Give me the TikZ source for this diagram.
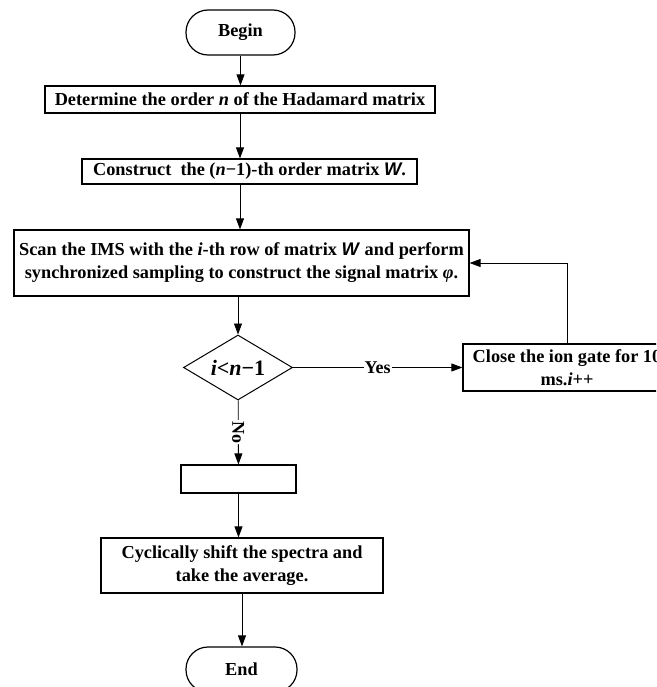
\documentclass[tikz,border=0pt]{standalone}
\usepackage{fontspec}
\setmainfont{Liberation Serif}
\newfontfamily\sansBold{Liberation Sans}
\usetikzlibrary{positioning,shapes.geometric,arrows.meta}
\tikzstyle{chart} = [x = 1pt, y = -1pt, every node/.style={font=\bfseries\fontsize{18.3}{23}\selectfont}]
\tikzstyle{flowLine} = [line width=0.8pt, -{Triangle[length=11pt,width=8pt]}]
\tikzstyle{processBox} = [draw, line width=1.2pt, inner sep=0pt, align=center]
\tikzstyle{terminalBox} = [draw, line width=1.2pt, rounded corners=22pt, minimum width=109pt, minimum height=45pt]
\tikzstyle{decisionBox} = [draw, diamond, line width=1pt, aspect=1.68, minimum width=109pt, minimum height=65pt, inner sep=0pt]
\tikzstyle{edgeLabel} = [fill=white, inner sep=1pt, midway, font=\bfseries\fontsize{18}{20}\selectfont]
\newcommand{\matW}{\textit{\sansBold W}}
\newcommand{\processNode}[6]{\node [processBox, minimum width=#4pt, minimum height=#5pt] (#1) at (#2,#3) {#6};}

\begin{document}
\begin{tikzpicture}[chart]
  \useasboundingbox (0,0) rectangle (656,687);
  \clip (0,0) rectangle (656,687);
  \node [terminalBox] (begin) at (240.5,32.5) {Begin};
  \processNode{order}{240}{99.5}{390}{27}{Determine the order \textit{n} of the Hadamard matrix}
  \processNode{construct}{249.5}{171.5}{335}{25}{Construct\ \ the (\textit{n}−1)-th order matrix \matW.}
  \processNode{scan}{241.5}{263}{455}{66}{Scan the IMS with the \textit{i}-th row of matrix \matW{} and perform\\synchronized sampling to construct the signal matrix \textit{φ}.}
  \node [decisionBox] (check) at (238,367.5) {\fontsize{22}{26}\selectfont\textit{i}<\textit{n}−1};
  \processNode{gate}{567}{367.5}{208}{47}{Close the ion gate for 10\\ms.\textit{i}++}
  \processNode{blank}{238.5}{479}{115}{28}{}
  \processNode{shift}{242}{565.5}{282}{55}{Cyclically shift the spectra and\\take the average.}
  \node [terminalBox, minimum width=111pt] (end) at (241.5,669.5) {End};

  \draw [flowLine] (begin) -- (begin |- order.north);
  \draw [flowLine] (order) -- (order |- construct.north);
  \draw [flowLine] (order |- construct.south) -- (order |- scan.north);
  \draw [flowLine] (check |- scan.south) -- (check);
  \draw [flowLine] (check) -- node [edgeLabel, rotate=-90] {No} (blank);
  \draw [flowLine] (blank) -- (blank |- shift.north);
  \draw [flowLine] (shift) -- (shift |- end.north);
  \draw [flowLine] (check) -- node [edgeLabel] {Yes} (gate);
  \draw [flowLine] (gate) |- (scan);
\end{tikzpicture}
\end{document}
